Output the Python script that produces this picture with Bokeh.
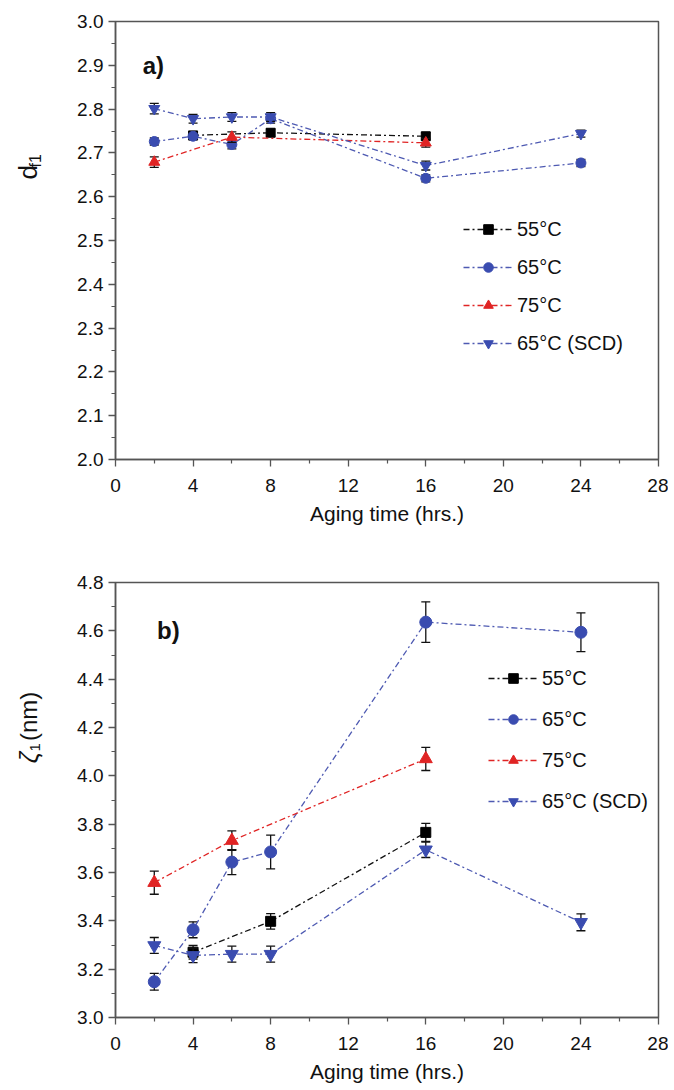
import numpy as np
from math import pi
from bokeh.plotting import figure
from bokeh.models import (Range1d, Label, Legend, LegendItem, FixedTicker,
                          PrintfTickFormatter)
from bokeh.layouts import column, row
from bokeh.embed import file_html
from bokeh.resources import INLINE
from bokeh.core.properties import value

# ---------------- data ----------------
series_names = ["55°C", "65°C", "75°C", "65°C (SCD)"]

# panel a) fractal dimension d_f1
a_x_55 = [4, 8, 16]
a_y_55 = [2.740, 2.746, 2.738]
a_e_55 = [0.008, 0.008, 0.008]
a_x_65 = [2, 4, 6, 8, 16, 24]
a_y_65 = [2.726, 2.738, 2.719, 2.778, 2.642, 2.677]
a_e_65 = [0.008, 0.008, 0.010, 0.010, 0.008, 0.008]
a_x_75 = [2, 6, 16]
a_y_75 = [2.679, 2.736, 2.723]
a_e_75 = [0.012, 0.012, 0.010]
a_x_scd = [2, 4, 6, 8, 16, 24]
a_y_scd = [2.801, 2.778, 2.782, 2.782, 2.671, 2.744]
a_e_scd = [0.012, 0.010, 0.010, 0.010, 0.010, 0.008]

# panel b) zeta_1 (nm)
b_x_55 = [4, 8, 16]
b_y_55 = [3.270, 3.398, 3.766]
b_e_55 = [0.028, 0.032, 0.037]
b_x_65 = [2, 4, 6, 8, 16, 24]
b_y_65 = [3.148, 3.363, 3.643, 3.685, 4.636, 4.594]
b_e_65 = [0.035, 0.033, 0.052, 0.070, 0.084, 0.080]
b_x_75 = [2, 6, 16]
b_y_75 = [3.558, 3.732, 4.070]
b_e_75 = [0.048, 0.040, 0.048]
b_x_scd = [2, 4, 6, 8, 16, 24]
b_y_scd = [3.298, 3.257, 3.262, 3.262, 3.694, 3.394]
b_e_scd = [0.033, 0.030, 0.033, 0.033, 0.032, 0.035]

x_ticks = [0, 4, 8, 12, 16, 20, 24, 28]
x_minor = [2, 6, 10, 14, 18, 22, 26]
a_y_ticks = [2.0, 2.1, 2.2, 2.3, 2.4, 2.5, 2.6, 2.7, 2.8, 2.9, 3.0]
a_y_minor = [2.05, 2.15, 2.25, 2.35, 2.45, 2.55, 2.65, 2.75, 2.85, 2.95]
b_y_ticks = [3.0, 3.2, 3.4, 3.6, 3.8, 4.0, 4.2, 4.4, 4.6, 4.8]
b_y_minor = [3.1, 3.3, 3.5, 3.7, 3.9, 4.1, 4.3, 4.5, 4.7]

# ---------------- style ----------------
FONT = "Liberation Sans"
AX = "#555555"
BLACK = "#111111"
BLUE = "#3a4cb0"
BLUE_L = "#4e5ab2"
RED = "#e02424"
DASH = "6 3 2 3"
LW = 52  # width of the y-title strip


def style(p):
    p.grid.visible = False
    p.outline_line_color = AX
    p.outline_line_width = 1.5
    for ax in (p.xaxis[0], p.yaxis[0]):
        ax.axis_line_color = AX
        ax.axis_line_width = 1.5
        ax.major_tick_line_color = AX
        ax.minor_tick_line_color = AX
        ax.major_tick_line_width = 1.3
        ax.minor_tick_line_width = 1.2
        ax.major_tick_in = 0
        ax.major_tick_out = 7
        ax.minor_tick_in = 0
        ax.minor_tick_out = 4
        ax.major_label_text_font = FONT
        ax.major_label_text_font_size = "19px"
        ax.major_label_text_color = BLACK
    p.xaxis.major_label_standoff = 12
    p.yaxis.major_label_standoff = 5
    p.yaxis.formatter = PrintfTickFormatter(format="%.1f")
    p.xaxis.ticker = FixedTicker(ticks=x_ticks, minor_ticks=x_minor)
    p.xaxis.axis_label = "Aging time (hrs.)"
    p.xaxis.axis_label_text_font = FONT
    p.xaxis.axis_label_text_font_size = "21px"
    p.xaxis.axis_label_text_font_style = "normal"
    p.xaxis.axis_label_text_color = BLACK
    p.xaxis.axis_label_standoff = 7


def add_series(p, xs, ys, es, color, lcolor, marker, size):
    lo = [y - e for y, e in zip(ys, es)]
    hi = [y + e for y, e in zip(ys, es)]
    p.segment(x0=xs, y0=lo, x1=xs, y1=hi, line_color=BLACK, line_width=1.3)
    p.scatter(x=xs + xs, y=lo + hi, marker="dash", size=9, line_color=BLACK, line_width=1.3)
    lr = p.line(xs, ys, line_color=lcolor, line_width=1.3, line_dash=DASH)
    sr = p.scatter(xs, ys, marker=marker, size=size, fill_color=color, line_color=color)
    return [lr, sr]


def make_legend(p, rends, loc, spacing):
    items = [LegendItem(label=n, renderers=r) for n, r in zip(series_names, rends)]
    lg = Legend(items=items, location=loc, glyph_width=50, glyph_height=24,
                label_height=24, spacing=spacing, padding=0, margin=0,
                label_standoff=4, border_line_alpha=0, background_fill_alpha=0,
                label_text_font=FONT, label_text_font_size="20px",
                label_text_color=BLACK)
    p.add_layout(lg)


def title_strip(height, top):
    # a strip in page pixels (x: 0..LW, y: page coordinates) that holds the y title
    s = figure(width=LW, height=height, x_range=Range1d(0, LW),
               y_range=Range1d(top + height, top), x_axis_type=None, y_axis_type=None,
               output_backend="svg", toolbar_location=None,
               min_border=0, min_border_left=0, min_border_right=0,
               min_border_top=0, min_border_bottom=0)
    s.outline_line_color = None
    s.grid.visible = False
    return s


def rot_text(s, x, y, txt, size, style="normal"):
    s.text(x=[x], y=[y], text=[txt], angle=pi / 2, text_align="center",
           text_baseline="middle", text_font=value(FONT),
           text_font_size=value(size), text_font_style=style, text_color=BLACK)


H_A = 569
H_B = 520

# ---------------- panel a ----------------
pa = figure(width=668 - LW, height=H_A, x_range=Range1d(0, 28), y_range=Range1d(2.0, 3.0),
            output_backend="svg", toolbar_location=None,
            min_border_left=115 - LW, min_border_right=10, min_border_top=21,
            min_border_bottom=H_A - 21 - 438)
style(pa)
pa.yaxis.ticker = FixedTicker(ticks=a_y_ticks, minor_ticks=a_y_minor)
ra = [
    add_series(pa, a_x_55, a_y_55, a_e_55, "#000000", BLACK, "square", 9),
    add_series(pa, a_x_65, a_y_65, a_e_65, BLUE, BLUE_L, "circle", 10),
    add_series(pa, a_x_75, a_y_75, a_e_75, RED, RED, "triangle", 11),
    add_series(pa, a_x_scd, a_y_scd, a_e_scd, BLUE, BLUE_L, "inverted_triangle", 11),
]
make_legend(pa, ra, (348, 104), 14)
pa.add_layout(Label(x=1.4, y=2.9, text="a)", text_font=FONT, text_font_size="24px",
                    text_font_style="bold", text_baseline="middle", text_color=BLACK))

sa = title_strip(H_A, 0)
rot_text(sa, 27, 196, "d", "26px")
rot_text(sa, 35, 181, "f1", "16px")

# ---------------- panel b ----------------
pb = figure(width=668 - LW, height=H_B, x_range=Range1d(0, 28), y_range=Range1d(3.0, 4.8),
            output_backend="svg", toolbar_location=None,
            min_border_left=115 - LW, min_border_right=10, min_border_top=13,
            min_border_bottom=H_B - 13 - 435)
style(pb)
pb.yaxis.ticker = FixedTicker(ticks=b_y_ticks, minor_ticks=b_y_minor)
rb = [
    add_series(pb, b_x_55, b_y_55, b_e_55, "#000000", BLACK, "square", 10),
    add_series(pb, b_x_65, b_y_65, b_e_65, BLUE, BLUE_L, "circle", 12),
    add_series(pb, b_x_75, b_y_75, b_e_75, RED, RED, "triangle", 13),
    add_series(pb, b_x_scd, b_y_scd, b_e_scd, BLUE, BLUE_L, "inverted_triangle", 13),
]
make_legend(pb, rb, (373, 204), 17)
pb.add_layout(Label(x=2.14, y=4.6, text="b)", text_font=FONT, text_font_size="24px",
                    text_font_style="bold", text_baseline="middle", text_color=BLACK))

sb = title_strip(H_B, H_A)
rot_text(sb, 28, 778, "ζ", "25px", "italic")
rot_text(sb, 34, 766, "1", "15px")
rot_text(sb, 28, 729, "(nm)", "24px")

layout = column(row(sa, pa), row(sb, pb))
open("out.html", "w").write(file_html(layout, INLINE))
